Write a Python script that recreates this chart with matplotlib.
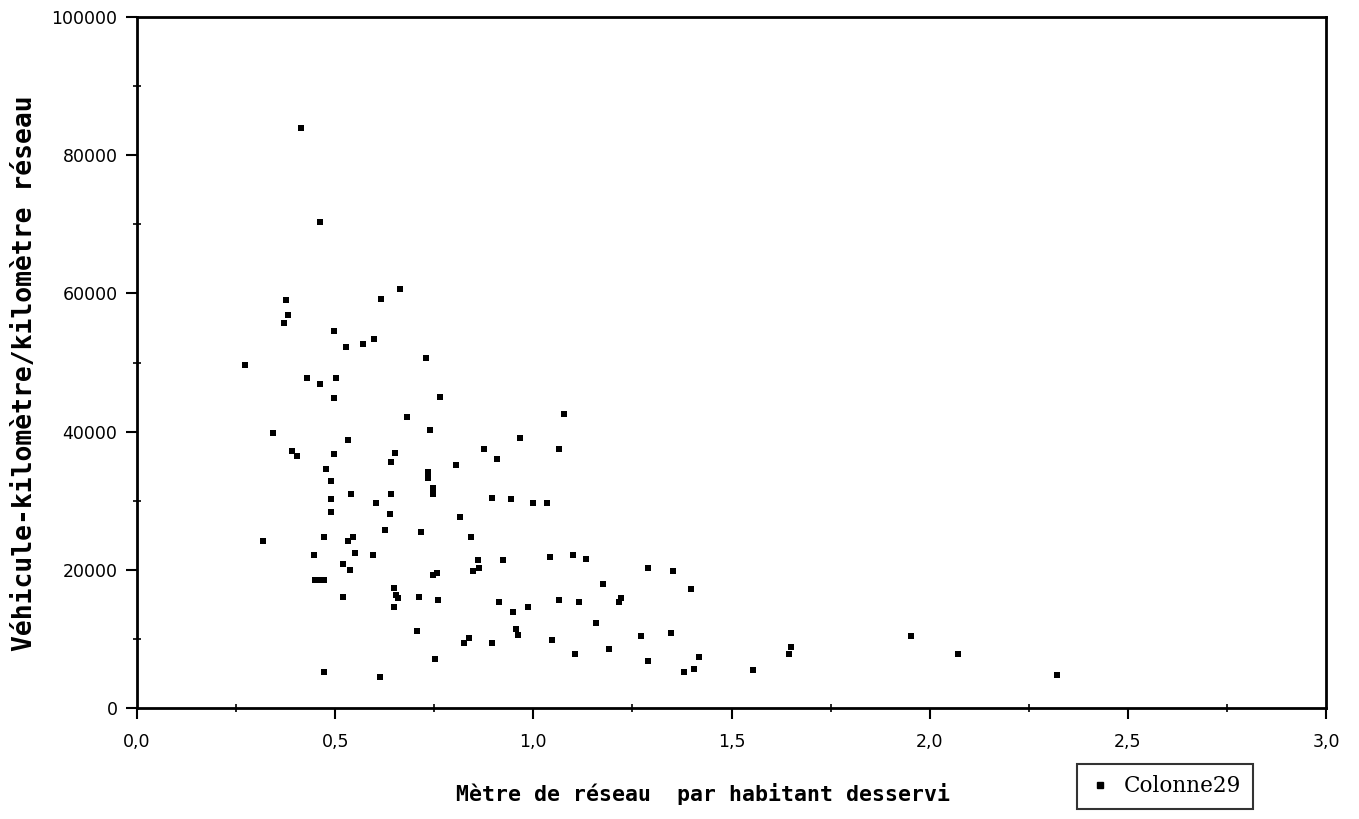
import matplotlib
matplotlib.use("Agg")
import matplotlib.pyplot as plt
from matplotlib.ticker import MultipleLocator, FixedLocator
from matplotlib.lines import Line2D

# Metre de reseau par habitant desservi
x_vals = [
    0.415, 0.461, 0.663, 0.615, 0.375, 0.382, 0.370, 0.496, 0.527, 0.570,
    0.597, 0.729, 0.273, 0.430, 0.461, 0.501, 0.496, 0.765,
    0.681, 0.342, 0.739, 0.532, 0.390, 0.403, 0.496, 0.651, 0.641, 0.805,
    0.476, 0.489, 0.734, 0.734, 0.747, 0.747, 0.489, 0.539, 0.641, 0.603,
    0.489, 0.638, 0.815, 0.625, 0.716, 0.319, 0.471, 0.544, 0.532, 0.843,
    0.446, 0.549, 0.595, 0.519, 0.537, 0.448, 0.461, 0.471, 0.747, 0.757,
    0.519, 0.648, 0.653, 0.658, 0.648, 0.711, 0.759, 0.706, 0.825, 0.838,
    0.752, 0.471, 0.613,
    1.078, 0.967, 0.876, 0.909, 1.066, 0.896, 0.944, 1.000, 1.035,
    0.861, 0.863, 0.848, 0.924, 1.041, 1.101, 1.134, 1.289, 1.352, 1.175,
    1.397, 0.914, 0.949, 0.987, 1.066, 1.114, 1.215, 1.220, 0.957, 0.962,
    0.896, 1.048, 1.157, 1.106, 1.192, 1.271, 1.347, 1.289, 1.418, 1.380,
    1.405,
    1.554, 1.651, 1.646, 1.954, 2.071, 2.322,
]
# Vehicule-kilometre / kilometre reseau
y_vals = [
    84000, 70400, 60600, 59200, 59000, 56900, 55700, 54500, 52200, 52700,
    53400, 50600, 49600, 47800, 46900, 47800, 44900, 45000,
    42100, 39800, 40300, 38800, 37200, 36500, 36800, 36900, 35600, 35200,
    34600, 32800, 34100, 33300, 31900, 31000, 30200, 30900, 30900, 29700,
    28400, 28100, 27700, 25800, 25400, 24100, 24800, 24800, 24100, 24700,
    22100, 22500, 22100, 20800, 19900, 18500, 18500, 18500, 19200, 19500,
    16000, 17300, 16300, 15900, 14600, 16000, 15700, 11100, 9400, 10100,
    7100, 5200, 4500,
    42600, 39100, 37500, 36100, 37500, 30400, 30200, 29700, 29600,
    21400, 20200, 19800, 21400, 21800, 22100, 21600, 20200, 19800, 17900,
    17200, 15300, 13900, 14600, 15700, 15300, 15300, 15900, 11500, 10500,
    9400, 9800, 12300, 7800, 8500, 10400, 10800, 6800, 7400, 5200,
    5600,
    5500, 8900, 7800, 10400, 7800, 4800,
]

x_ticks = [0.0, 0.5, 1.0, 1.5, 2.0, 2.5, 3.0]
x_tick_labels = ["0,0", "0,5", "1,0", "1,5", "2,0", "2,5", "3,0"]
y_ticks = [0, 20000, 40000, 60000, 80000, 100000]
y_tick_labels = ["0", "20000", "40000", "60000", "80000", "100000"]
series_name = "Colonne29"
x_label = "Mètre de réseau  par habitant desservi"
y_label = "Véhicule-kilomètre/kilomètre réseau"

W, H = 1359, 819
fig = plt.figure(figsize=(W / 100, H / 100), dpi=100)
fig.patch.set_facecolor("white")
ax = fig.add_axes([137 / W, 1 - 708 / H, (1326 - 137) / W, (708 - 17) / H])

ax.scatter(x_vals, y_vals, marker="s", s=20, color="black", linewidths=0, zorder=3)

ax.set_xlim(0, 3.0)
ax.set_ylim(0, 100000)
ax.xaxis.set_major_locator(FixedLocator(x_ticks))
ax.yaxis.set_major_locator(FixedLocator(y_ticks))
ax.xaxis.set_minor_locator(MultipleLocator(0.25))
ax.yaxis.set_minor_locator(MultipleLocator(10000))
ax.set_xticklabels(x_tick_labels)
ax.set_yticklabels(y_tick_labels)

for lab in ax.get_xticklabels() + ax.get_yticklabels():
    lab.set_fontfamily("DejaVu Sans")
    lab.set_fontsize(12.5)

ax.tick_params(axis="both", which="major", direction="out", length=8, width=1.5,
               color="black")
ax.tick_params(axis="both", which="minor", direction="inout", length=6, width=1.2,
               color="black")
ax.tick_params(axis="y", which="major", pad=6)
ax.tick_params(axis="x", which="major", pad=10)

for sp in ax.spines.values():
    sp.set_linewidth(2)
    sp.set_color("black")

fig.text(703 / W, 1 - 794 / H, x_label, ha="center", va="center",
         fontsize=15.5, fontweight="bold", family="DejaVu Sans Mono")
fig.text(25 / W, 1 - 373 / H, y_label, ha="center", va="center", rotation=90,
         fontsize=19, fontweight="bold", family="DejaVu Sans Mono")

handle = Line2D([], [], marker="s", linestyle="none", color="black", markersize=4)
leg = fig.legend([handle], [series_name], loc="center",
                 bbox_to_anchor=(1165 / W, 1 - 786.5 / H),
                 prop=dict(family="DejaVu Serif", size=15.5),
                 frameon=True, fancybox=False, edgecolor="black",
                 borderpad=0.55, handletextpad=0.6, handlelength=1.0,
                 borderaxespad=0)
leg.get_frame().set_linewidth(1.5)

fig.savefig("out.png", dpi=100, facecolor="white")
